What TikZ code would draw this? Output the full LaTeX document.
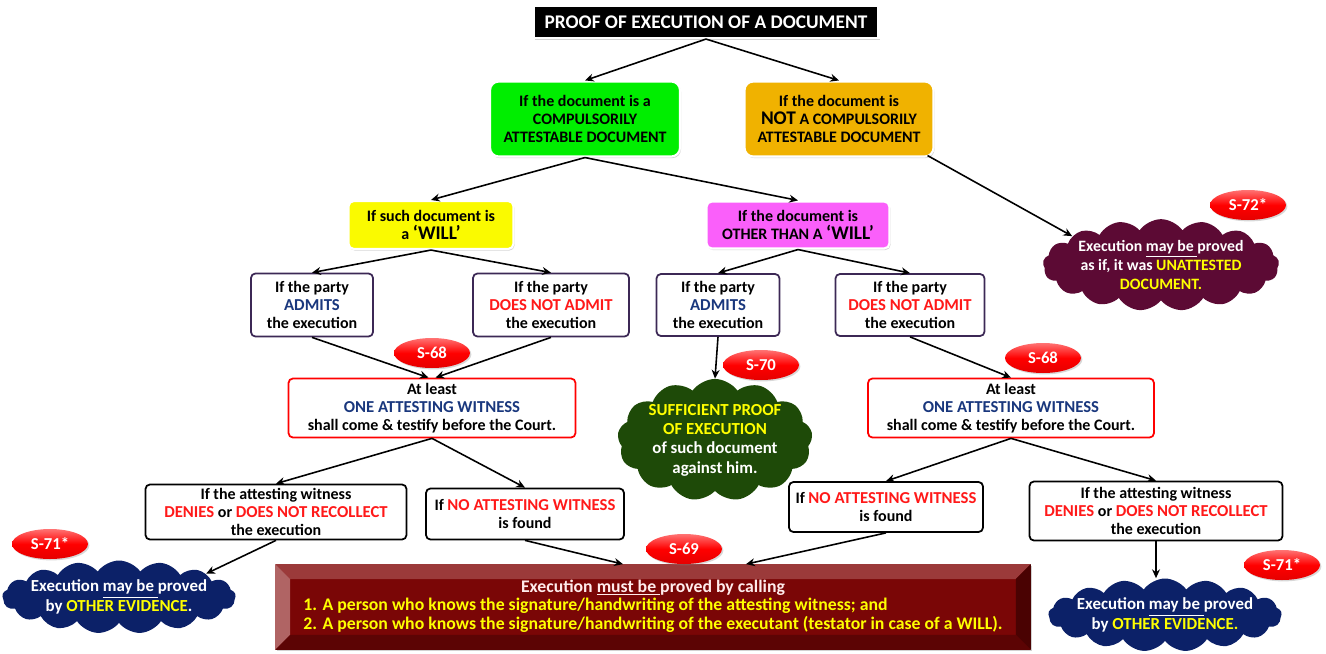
\documentclass[tikz,border=0pt]{standalone}
\usepackage{fontspec}
\setmainfont{Carlito}
\usepackage{tikz}
\usetikzlibrary{shapes, arrows.meta, positioning, calc, shapes.geometric, shapes.symbols, shadows}
\usepackage{xcolor}
\definecolor{compgreen}{RGB}{0, 238, 0}
\definecolor{notorange}{RGB}{240, 178, 0}
\definecolor{willyellow}{RGB}{250, 250, 0}
\definecolor{othermagenta}{RGB}{250, 95, 250}
\definecolor{partyline}{RGB}{60, 40, 85}
\definecolor{navytext}{RGB}{25, 55, 125}
\definecolor{redtext}{RGB}{255, 25, 25}
\definecolor{cloudyellow}{RGB}{255, 255, 0}
\definecolor{suffgreen}{RGB}{30, 74, 8}
\definecolor{evidblue}{RGB}{12, 33, 104}
\definecolor{unattmaroon}{RGB}{92, 10, 52}
\definecolor{mustinner}{RGB}{122, 6, 6}
\definecolor{bevtop}{RGB}{155, 58, 58}
\definecolor{bevleft}{RGB}{176, 100, 100}
\definecolor{bevright}{RGB}{74, 2, 2}
\definecolor{bevbottom}{RGB}{92, 4, 4}
\newcommand{\emsize}{\fontsize{9.5}{11}\selectfont}
\newcommand{\bigsize}{\fontsize{11}{12}\selectfont}

\begin{document}
\begin{tikzpicture}[
  x=0.02cm, y=-0.02cm,
  font=\fontsize{9.1}{10.2}\selectfont\bfseries,
  cbox/.style={rectangle, rounded corners=5pt, draw=white, line width=1.2pt, fill=#1,
               align=center, inner sep=2pt,
               drop shadow={opacity=0.35, shadow xshift=0.6pt, shadow yshift=-0.9pt}},
  pbox/.style={rectangle, rounded corners=2.5pt, draw=partyline, line width=1pt, fill=white,
               align=center, inner sep=2pt},
  wbox/.style={pbox, draw=red},
  dbox/.style={pbox, draw=black},
  badge/.style={ellipse, minimum width=1.52cm, minimum height=0.6cm, inner sep=0pt, draw=none,
                top color=red!55!white, bottom color=red!90!black, middle color=red,
                text=white, font=\fontsize{9.5}{10}\selectfont\bfseries,
                drop shadow={opacity=0.3, shadow xshift=0.8pt, shadow yshift=-0.8pt}},
  bubble/.style={cloud, cloud puffs=17, cloud puff arc=110, cloud ignores aspect, fill=#1, draw=none,
                 text=white, align=center, inner sep=0pt, font=\fontsize{9.6}{11}\selectfont\bfseries},
  arr/.style={-{Stealth[length=5pt, width=4.5pt]}, line width=0.9pt, black}
]
\useasboundingbox (0,0) rectangle (1326,653);
\fill[white] (0,0) rectangle (1326,653);

\node[cbox=black, rounded corners=0pt, text=white, font=\fontsize{11}{13}\selectfont\bfseries,
      minimum width=6.9cm, minimum height=0.64cm] (title) at (706,22) {PROOF OF EXECUTION OF A DOCUMENT};

\node[cbox=compgreen, minimum width=3.8cm, minimum height=1.5cm] (comp) at (585,119)
  {If the document is a\\ COMPULSORILY\\ ATTESTABLE DOCUMENT};
\node[cbox=notorange, minimum width=3.78cm, minimum height=1.5cm] (notcomp) at (839,119)
  {If the document is\\ {\bigsize NOT} A COMPULSORILY\\ ATTESTABLE DOCUMENT};
\draw[arr] (title.south) -- (comp.north);
\draw[arr] (title.south) -- (notcomp.north);

\node[cbox=willyellow, rounded corners=3pt, minimum width=3.3cm, minimum height=0.96cm] (will) at (431,225)
  {If such document is\\ a {\bigsize ‘WILL’}};
\node[cbox=othermagenta, rounded corners=3pt, minimum width=3.66cm, minimum height=0.94cm] (other) at (798,225)
  {If the document is\\ OTHER THAN A {\bigsize ‘WILL’}};
\draw[arr] (comp.south) -- (will.north);
\draw[arr] (comp.south) -- (other.north);

\node[bubble=unattmaroon, font=\fontsize{9}{11}\selectfont\bfseries, minimum width=4.6cm, minimum height=1.62cm] (unatt) at (1161,265)
  {Execution \underline{may be }proved\\ as if, it was \textcolor{cloudyellow}{UNATTESTED}\\ \textcolor{cloudyellow}{DOCUMENT.}};
\draw[arr] ($(notcomp.south east)+(-7,-2)$) -- (unatt.162);
\node[badge] (s72) at (1248,205) {S-72*};

\node[pbox, minimum width=2.44cm, minimum height=1.26cm] (adm1) at (312,305)
  {If the party\\ \textcolor{navytext}{\emsize ADMITS}\\ the execution};
\node[pbox, minimum width=3.12cm, minimum height=1.26cm] (nadm1) at (551,305)
  {If the party\\ \textcolor{redtext}{\emsize DOES NOT ADMIT}\\ the execution};
\node[pbox, minimum width=2.46cm, minimum height=1.24cm] (adm2) at (718,305)
  {If the party\\ \textcolor{navytext}{\emsize ADMITS}\\ the execution};
\node[pbox, minimum width=2.98cm, minimum height=1.24cm] (nadm2) at (910,305)
  {If the party\\ \textcolor{redtext}{\emsize DOES NOT ADMIT}\\ the execution};
\draw[arr] (will.south) -- (adm1.north);
\draw[arr] (will.south) -- (nadm1.north);
\draw[arr] (other.south) -- (adm2.north);
\draw[arr] (other.south) -- (nadm2.north);

\node[wbox, minimum width=5.74cm, minimum height=1.18cm] (wit1) at (432,408)
  {At least\\ \textcolor{navytext}{\emsize ONE ATTESTING WITNESS}\\ shall come \& testify before the Court.};
\node[wbox, minimum width=5.72cm, minimum height=1.18cm] (wit2) at (1011,408)
  {At least\\ \textcolor{navytext}{\emsize ONE ATTESTING WITNESS}\\ shall come \& testify before the Court.};
\draw[arr] (adm1.south) -- ([xshift=-2pt]wit1.north);
\draw[arr] (nadm1.south) -- ([xshift=2pt]wit1.north);
\draw[arr] (nadm2.south) -- (wit2.north);
\node[badge] (s68a) at (432,353) {S-68};
\node[badge] (s68b) at (1043,358) {S-68};

\node[bubble=suffgreen, cloud puffs=13, minimum width=3.74cm, minimum height=2.12cm] (suff) at (715,440)
  {\textcolor{cloudyellow}{SUFFICIENT PROOF}\\ \textcolor{cloudyellow}{OF EXECUTION}\\ of such document\\ against him.};
\draw[arr] (adm2.south) -- (suff.north);
\node[badge] (s70) at (761,365) {S-70};

\node[dbox, minimum width=5.22cm, minimum height=1.1cm] (den1) at (276,512)
  {If the attesting witness\\ \textcolor{redtext}{\emsize DENIES} or \textcolor{redtext}{\emsize DOES NOT RECOLLECT}\\ the execution};
\node[dbox, minimum width=3.96cm, minimum height=1.02cm] (nal) at (525,514)
  {If \textcolor{redtext}{\emsize NO ATTESTING WITNESS}\\ is found};
\node[dbox, minimum width=3.88cm, minimum height=1.0cm] (nar) at (886,507)
  {If \textcolor{redtext}{\emsize NO ATTESTING WITNESS}\\ is found};
\node[dbox, minimum width=5.06cm, minimum height=1.18cm] (den2) at (1156,511)
  {If the attesting witness\\ \textcolor{redtext}{\emsize DENIES} or \textcolor{redtext}{\emsize DOES NOT RECOLLECT}\\ the execution};
\draw[arr] (wit1.south) -- (den1.north);
\draw[arr] (wit1.south) -- (nal.north);
\draw[arr] (wit2.south) -- (nar.north);
\draw[arr] (wit2.south) -- (den2.north);

\node[bubble=evidblue, inner sep=-3pt, minimum width=4.58cm, minimum height=1.46cm] (oev1) at (119,597)
  {Execution \underline{may be }proved\\ by \textcolor{cloudyellow}{OTHER EVIDENCE}.};
\node[bubble=evidblue, inner sep=-3pt, minimum width=4.54cm, minimum height=1.46cm] (oev2) at (1165,615)
  {Execution \underline{may be }proved\\ by \textcolor{cloudyellow}{OTHER EVIDENCE.}};
\draw[arr] (den1.south) -- (oev1.15);
\draw[arr] (den2.south) -- (den2.south |- oev2.north);
\node[badge] (s71a) at (50,544) {S-71*};
\node[badge] (s71b) at (1282,565) {S-71*};

\node[rectangle, fill=mustinner, minimum width=15.1cm, minimum height=1.7cm, inner sep=0pt,
      font=\fontsize{10.1}{10.5}\selectfont\bfseries,
      drop shadow={opacity=0.35, shadow xshift=0.8pt, shadow yshift=-0.8pt}] (must) at (653,607)
  {\begin{tabular}{@{}l@{}}
   \multicolumn{1}{@{}c@{}}{\textcolor{red!8!white}{Execution \underline{must be }proved by calling}}\\
   \textcolor{cloudyellow}{1. A person who knows the signature/handwriting of the attesting witness; and}\\
   \textcolor{cloudyellow}{2. A person who knows the signature/handwriting of the executant (testator in case of a WILL).}
   \end{tabular}};
\fill[bevtop] (must.north west) -- (must.north east) -- ++(-15,15) -- ($(must.north west)+(15,15)$) -- cycle;
\fill[bevleft] (must.north west) -- (must.south west) -- ++(15,-15) -- ($(must.north west)+(15,15)$) -- cycle;
\fill[bevright] (must.north east) -- (must.south east) -- ++(-15,-15) -- ($(must.north east)+(-15,15)$) -- cycle;
\fill[bevbottom] (must.south west) -- (must.south east) -- ++(-15,-15) -- ($(must.south west)+(15,-15)$) -- cycle;
\draw[arr] (nal.south) -- ($(must.north)+(-30,0)$);
\draw[arr] (nar.south) -- ($(must.north)+(93,0)$);
\node[badge] (s69) at (684,549) {S-69};
\end{tikzpicture}
\end{document}
